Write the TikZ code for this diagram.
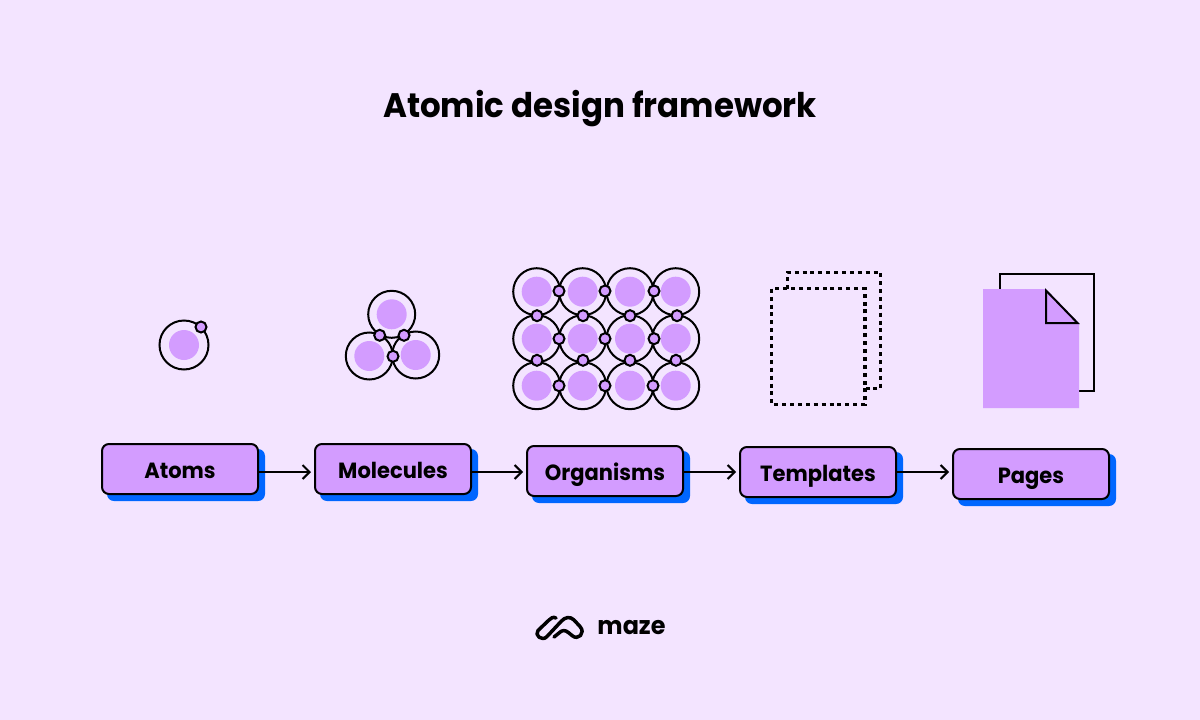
\documentclass[tikz,border=0pt]{standalone}
\usepackage{fontspec}
\setmainfont{Poppins}
\newfontfamily\narrowfont{Poppins}[FakeStretch=0.955]
\usetikzlibrary{arrows.meta, positioning}
\definecolor{pagebg}{HTML}{F3E4FF}
\definecolor{lilac}{HTML}{D39CFF}
\definecolor{mazeblue}{HTML}{0066FF}

\begin{document}
\begin{tikzpicture}[x=1pt,y=-1pt,line join=miter]
\tikzset{
  stageBox/.style={rectangle, rounded corners=7pt, minimum width=156pt, minimum height=50pt, inner sep=0pt, text centered, text height=18.4pt, text depth=0pt, draw=black, line width=2pt, fill=lilac, font=\narrowfont\bfseries\fontsize{22}{24}\selectfont},
  stageShadow/.style={rectangle, rounded corners=7pt, minimum width=158pt, minimum height=52pt, inner sep=0pt, fill=mazeblue},
  flowLine/.style={draw=black, line width=2pt, -{Straight Barb[length=7pt,width=14pt,line width=2pt]}, shorten >=3pt},
  shell/.style={circle, draw=black, line width=2pt, minimum size=47pt, inner sep=0pt},
  core/.style={circle, fill=lilac, minimum size=30pt, inner sep=0pt},
  bond/.style={circle, draw=black, fill=lilac, line width=2pt, minimum size=11pt, inner sep=0pt},
  dotLine/.style={draw=black, line width=3.2pt, dash pattern=on 4pt off 3.9pt},
}
\useasboundingbox (0,0) rectangle (1200,720);
\fill[pagebg] (0,0) rectangle (1200,720);

\node (title) at (600,117) [anchor=base, font=\narrowfont\bfseries\fontsize{34}{40}\selectfont] {Atomic design framework};

% stages
\foreach \name/\cx/\cy/\word in {atoms/180/469/Atoms, molecules/393/469/Molecules, organisms/605/471/Organisms, templates/818/472/Templates, pages/1031/474/Pages} {
  \node (\name shadow) at (\cx+6,\cy+6) [stageShadow] {};
  \node (\name) at (\cx,\cy) [stageBox] {\word};
}
\draw[flowLine] ([yshift=-3pt]atoms.east) -- ([yshift=-3pt]molecules.west);
\draw[flowLine] ([yshift=-3pt]molecules.east) -- ([yshift=-1pt]organisms.west);
\draw[flowLine] ([yshift=-1pt]organisms.east) -- (templates.west);
\draw[flowLine] (templates.east) -- ([yshift=2pt]pages.west);

% atom
\node (atomshell) at (184,345) [shell, minimum size=49pt] {};
\node (atomcore) at (184,345) [core] {};
\node (atombond) at (201,327) [bond] {};

% molecule
\foreach \m/\cx/\cy in {a/391.7/314.3, b/369.3/356, c/415.7/355} {
  \node (mol\m) at (\cx,\cy) [shell] {};
  \node (molcore\m) at (\cx,\cy) [core] {};
}
\node (molbonda) at (379.7,335.3) [bond] {};
\node (molbondb) at (404,335.3) [bond] {};
\node (molbondc) at (393,356.3) [bond] {};

% organism
\foreach \cx in {536.7,582.7,630,675.7} {
  \foreach \cy in {291.7,338.7,385.7} {
    \node at (\cx,\cy) [shell] {};
    \node at (\cx,\cy) [core] {};
  }
}
\foreach \cx/\cy in {559/291, 605/291, 654/291, 559/338.7, 605/338.7, 654/338.7, 559/385.7, 605/385.7, 653/385.7} {
  \node at (\cx,\cy) [bond] {};
}
\foreach \cx/\cy in {537/315.7, 583/315.7, 630/315.7, 677/315.7, 537/360.3, 583/360.3, 630/360.3, 676/360.3} {
  \node at (\cx,\cy) [bond] {};
}

% template
\draw[dotLine] (771.3,288.7) rectangle (865,404.3);
\draw[dotLine] (787.3,288.7) -- (787.3,272.3) -- (880.7,272.3) -- (880.7,388.3) -- (865,388.3);

% page
\draw[black, line width=2pt] (1000,274) rectangle (1094,390.7);
\fill[lilac] (983,289) -- (1046,289) -- (1079,323) -- (1079,408) -- (983,408) -- cycle;
\draw[black, line width=2pt, fill=lilac] (1046,290.5) -- (1077.5,323) -- (1046,323) -- cycle;

% logo
\draw[black, line width=3.5pt, line cap=round, line join=round]
  (556,618) .. controls (553,616.5) and (551,618) .. (549,620) -- (538,630.5)
  .. controls (534,635) and (542,642) .. (547,636.5) -- (561,621.5)
  .. controls (565,617) and (570,616) .. (574,620) -- (580,626.5)
  .. controls (586,633) and (578,641) .. (572,635.5) -- (569,633)
  .. controls (565,629.5) and (562,630) .. (559,633) -- (554,637);
\node (logotext) at (631.5,634) [anchor=base, font=\narrowfont\bfseries\fontsize{25}{30}\selectfont] {maze};
\end{tikzpicture}
\end{document}
